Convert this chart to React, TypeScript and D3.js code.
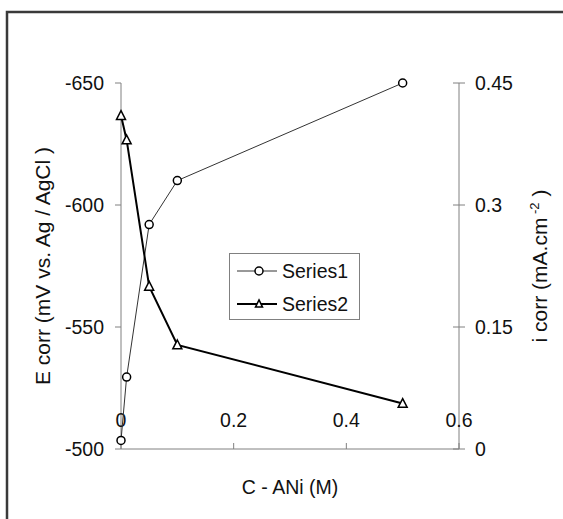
import React from "react";
import * as d3 from "d3";

const concentration = [0, 0.01, 0.05, 0.1, 0.5];
const ecorr = [-503.5, -529.5, -592, -610, -650];
const icorr = [0.41, 0.38, 0.2, 0.128, 0.056];
const xTicks = [0, 0.2, 0.4, 0.6];
const xTickLabels = ["0", "0.2", "0.4", "0.6"];
const leftTicks = [-500, -550, -600, -650];
const leftTickLabels = ["-500", "-550", "-600", "-650"];
const rightTicks = [0, 0.15, 0.3, 0.45];
const rightTickLabels = ["0", "0.15", "0.3", "0.45"];
const seriesNames = ["Series1", "Series2"];

const W = 563;
const H = 519;
const L = 121, R = 459, T = 83, B = 449;
const FONT = "'Liberation Sans', Arial, sans-serif";
const AXIS = "#808080";
const FS = 19.5;
const FSR = 21;

function Triangle({ cx, cy, s = 9, sw = 1.5 }: { cx: number; cy: number; s?: number; sw?: number }) {
  const h = s * 0.87;
  const p = `M${cx},${cy - h / 2 - 1}L${cx + s / 2},${cy + h / 2}L${cx - s / 2},${cy + h / 2}Z`;
  return <path d={p} fill="white" stroke="black" strokeWidth={sw} />;
}

export default function App() {
  const x = d3.scaleLinear().domain([0, 0.6]).range([L, R]);
  const yL = d3.scaleLinear().domain([-500, -650]).range([B, T]);
  const yR = d3.scaleLinear().domain([0, 0.45]).range([B, T]);

  const pts1 = concentration.map((c, i) => [x(c), yL(ecorr[i])] as [number, number]);
  const pts2 = concentration.map((c, i) => [x(c), yR(icorr[i])] as [number, number]);
  const line = d3.line();

  const legX = 229.5, legY = 253.5, legW = 130, legH = 66;
  const rows = [271, 304];

  return (
    <svg width={W} height={H} style={{ position: "absolute", left: 0, top: 0, background: "white" }} fontFamily={FONT}>
      <rect x={0} y={0} width={W} height={H} fill="white" />
      <rect x={7} y={12} width={600} height={560} fill="none" stroke="#3a3a3a" strokeWidth={2.5} />

      {/* left axis */}
      <line x1={L} x2={L} y1={T} y2={B} stroke={AXIS} strokeWidth={1} />
      {leftTicks.map((t, i) => (
        <g key={"l" + i}>
          <line x1={L - 6} x2={L} y1={yL(t)} y2={yL(t)} stroke={AXIS} />
          <text x={104} y={yL(t)} dy="0.36em" textAnchor="end" fontSize={FS} fill="#111">{leftTickLabels[i]}</text>
        </g>
      ))}

      {/* right axis */}
      <line x1={R} x2={R} y1={T} y2={B} stroke={AXIS} strokeWidth={1} />
      {rightTicks.map((t, i) => (
        <g key={"r" + i}>
          <line x1={R - 6} x2={R + 6} y1={yR(t)} y2={yR(t)} stroke={AXIS} />
          <text x={475} y={yR(t)} dy="0.36em" textAnchor="start" fontSize={FS} fill="#111">{rightTickLabels[i]}</text>
        </g>
      ))}

      {/* x axis */}
      <line x1={L} x2={R} y1={B} y2={B} stroke={AXIS} strokeWidth={1} />
      {xTicks.map((t, i) => (
        <g key={"x" + i}>
          <line x1={x(t)} x2={x(t)} y1={B - 6} y2={B} stroke={AXIS} />
          <text x={x(t)} y={427} textAnchor="middle" fontSize={FS} fill="#111">{xTickLabels[i]}</text>
        </g>
      ))}

      {/* titles */}
      <text x={290} y={494} textAnchor="middle" fontSize={FS} fill="#111">C - ANi (M)</text>
      <text transform={`translate(50,${(T + B) / 2}) rotate(-90)`} textAnchor="middle" fontSize={FSR} fill="#111">
        E corr (mV vs. Ag / AgCl )
      </text>
      <text transform={`translate(547,${(T + B) / 2}) rotate(-90)`} textAnchor="middle" fontSize={FSR} fill="#111">
        i corr (mA.cm<tspan dy={-8} fontSize={13}> -2</tspan><tspan dy={8}> )</tspan>
      </text>

      {/* series 1 */}
      <path d={line(pts1) || ""} fill="none" stroke="#333" strokeWidth={1} />
      {pts1.map((p, i) => (
        <circle key={"c" + i} cx={p[0]} cy={p[1]} r={4} fill="white" stroke="black" strokeWidth={1.5} />
      ))}

      {/* series 2 */}
      <path d={line(pts2) || ""} fill="none" stroke="black" strokeWidth={2} />
      {pts2.map((p, i) => (
        <Triangle key={"t" + i} cx={p[0]} cy={p[1]} />
      ))}

      {/* legend */}
      <rect x={legX} y={legY} width={legW} height={legH} fill="white" stroke={AXIS} strokeWidth={1} />
      <line x1={237} x2={277} y1={rows[0]} y2={rows[0]} stroke="#333" strokeWidth={1} />
      <circle cx={259} cy={rows[0]} r={4} fill="white" stroke="black" strokeWidth={1.5} />
      <text x={282} y={rows[0]} dy="0.36em" fontSize={FS} fill="#111">{seriesNames[0]}</text>
      <line x1={237} x2={277} y1={rows[1]} y2={rows[1]} stroke="black" strokeWidth={2} />
      <Triangle cx={259} cy={rows[1]} s={7} />
      <text x={282} y={rows[1]} dy="0.36em" fontSize={FS} fill="#111">{seriesNames[1]}</text>
    </svg>
  );
}
